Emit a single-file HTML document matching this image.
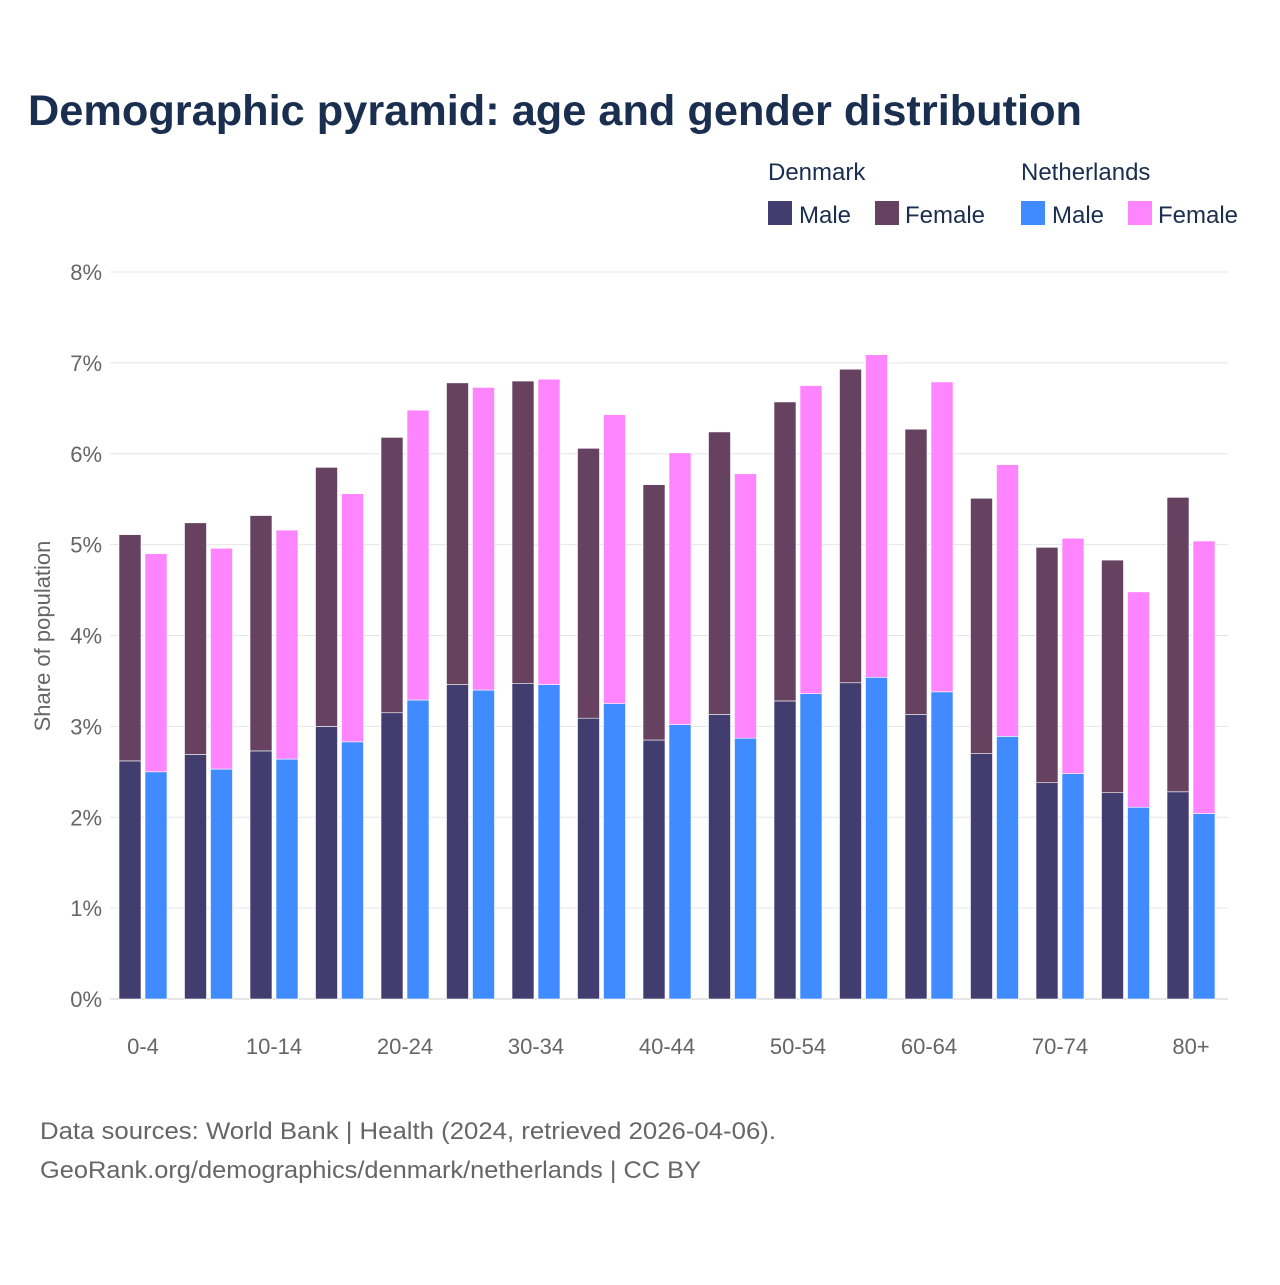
<!DOCTYPE html>
<html><head><meta charset="utf-8"><style>
body{margin:0;background:#fff;font-family:"Liberation Sans",sans-serif}
svg text{font-family:"Liberation Sans",sans-serif}
</style></head><body>
<svg id="c" width="1280" height="1280">
<text x="28" y="125" font-size="43" font-weight="bold" fill="#1a2e50" textLength="1054" lengthAdjust="spacingAndGlyphs">Demographic pyramid: age and gender distribution</text>
<g font-size="24" fill="#1a2e50">
<text x="768" y="180" fill="#1a2e50">Denmark</text>
<text x="1021" y="180" fill="#1a2e50">Netherlands</text>
<rect x="768" y="201" width="24" height="24" fill="#413d6e"/><text x="799" y="223" fill="#1a2e50">Male</text>
<rect x="875" y="201" width="24" height="24" fill="#664160"/><text x="905" y="223" fill="#1a2e50">Female</text>
<rect x="1021" y="201" width="24" height="24" fill="#3f8bff"/><text x="1052" y="223" fill="#1a2e50">Male</text>
<rect x="1128" y="201" width="24" height="24" fill="#ff85ff"/><text x="1158" y="223" fill="#1a2e50">Female</text>
</g>
<text transform="translate(50,636) rotate(-90)" text-anchor="middle" font-size="22" fill="#666">Share of population</text>
<g id="grid"></g><g id="bars"></g><g id="xl"></g>
<text x="40" y="1139" font-size="24" fill="#666" textLength="736" lengthAdjust="spacingAndGlyphs">Data sources: World Bank | Health (2024, retrieved 2026-04-06).</text>
<text x="40" y="1178" font-size="24" fill="#666" textLength="661" lengthAdjust="spacingAndGlyphs">GeoRank.org/demographics/denmark/netherlands | CC BY</text>
</svg>
<script>
const categories=["0-4","5-9","10-14","15-19","20-24","25-29","30-34","35-39","40-44","45-49","50-54","55-59","60-64","65-69","70-74","75-79","80+"];
const dkMale=[2.62,2.69,2.73,3.0,3.15,3.46,3.47,3.09,2.85,3.13,3.28,3.48,3.13,2.70,2.38,2.27,2.28];
const dkTotal=[5.11,5.24,5.32,5.85,6.18,6.78,6.80,6.06,5.66,6.24,6.57,6.93,6.27,5.51,4.97,4.83,5.52];
const nlMale=[2.50,2.53,2.64,2.83,3.29,3.40,3.46,3.25,3.02,2.87,3.36,3.54,3.38,2.89,2.48,2.11,2.04];
const nlTotal=[4.90,4.96,5.16,5.56,6.48,6.73,6.82,6.43,6.01,5.78,6.75,7.09,6.79,5.88,5.07,4.48,5.04];
const yTicks=[0,1,2,3,4,5,6,7,8];
const NS="http://www.w3.org/2000/svg";
const y0=999,pxPer=90.875,x0=110,step=65.5,bw=22;
const Y=v=>y0-v*pxPer;
const X=i=>x0+i*step;
function mk(t,a,p){const e=document.createElementNS(NS,t);for(const k in a)e.setAttribute(k,a[k]);p.appendChild(e);return e;}
const g=document.getElementById('grid');
yTicks.forEach(t=>{
 const l=mk('line',{x1:110,x2:1228,y1:Y(t),y2:Y(t),stroke:t===0?'#ccc':'#e6e6e6','stroke-width':1},g);
 
 
 const tx=mk('text',{x:102,y:Y(t)+8,'text-anchor':'end','font-size':22,fill:'#666'},g);tx.textContent=t+'%';
 
 
});
const b=document.getElementById('bars');
function bar(x,v0,v1,col){const r=mk('rect',{x:x,y:Y(v1),width:bw,height:Y(v0)-Y(v1),fill:col,stroke:'#fff','stroke-width':0.6},b);return r;}
categories.forEach((c,i)=>{
 const xa=X(i)+9, xb=xa+bw+4;
 let r=bar(xa,0,dkMale[i],'#413d6e');
 
 
 r=bar(xa,dkMale[i],dkTotal[i],'#664160');
 
 
 r=bar(xb,0,nlMale[i],'#3f8bff');
 
 
 r=bar(xb,nlMale[i],nlTotal[i],'#ff85ff');
 
 
 if(i%2===0){
  const t=mk('text',{x:xa+bw+2,y:1054,'text-anchor':'middle','font-size':22,fill:'#666'},document.getElementById('xl'));
  t.textContent=c;
  
  
 }
});
</script>
</body></html>
